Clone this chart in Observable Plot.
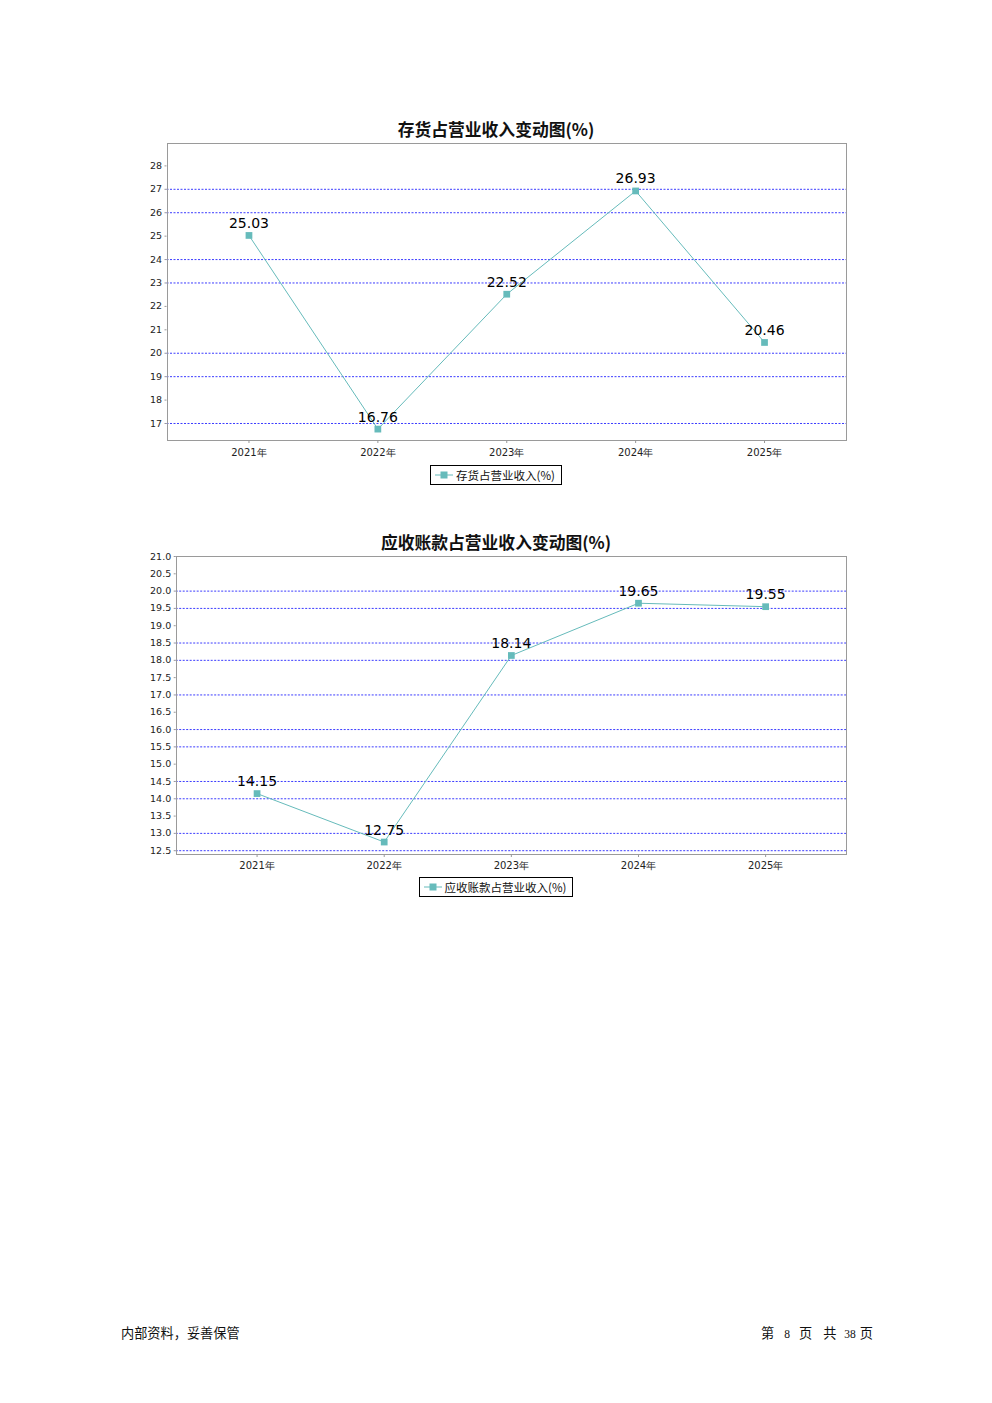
<!DOCTYPE html>
<html><head><meta charset="utf-8">
<script src="https://cdn.jsdelivr.net/npm/d3@7"></script>
<script src="https://cdn.jsdelivr.net/npm/@observablehq/plot@0.6"></script>
<style>
body{margin:0;background:#fff;width:992px;height:1403px;position:relative;font-family:"DejaVu Sans",sans-serif;overflow:hidden}
.abs{position:absolute}
.title{left:0;width:992px;text-align:center;font-family:"Noto Sans CJK SC",sans-serif;font-weight:bold;font-size:16.8px;line-height:20px;color:#111}
.legwrap{left:0;width:992px;display:flex;justify-content:center}
.legend{border:1px solid #000;height:18px;display:flex;align-items:center;padding:0 6px 0 4px;font-family:"Noto Sans CJK SC",sans-serif;font-size:11.5px;color:#111;background:#fff}
.legend svg{margin-right:3px}
.foot{font-family:"Noto Sans CJK SC",sans-serif;font-size:13.2px;color:#111;line-height:16px}
.pg{display:flex;align-items:baseline}
.num{font-family:"Liberation Serif",serif;font-size:11.5px}
</style></head>
<body>
<div class="abs title" style="top:119px">存货占营业收入变动图(%)</div>
<div class="abs" id="c1" style="left:0;top:135px"></div>
<div class="abs legwrap" style="top:465px"><div class="legend" id="l1"></div></div>

<div class="abs title" style="top:532px">应收账款占营业收入变动图(%)</div>
<div class="abs" id="c2" style="left:0;top:548px"></div>
<div class="abs legwrap" style="top:877px"><div class="legend" id="l2"></div></div>

<div class="abs foot" style="left:121px;top:1325px">内部资料，妥善保管</div>
<div class="abs foot pg" style="left:761px;top:1325px"><span>第</span><span class="num" style="margin-left:10px">8</span><span style="margin-left:9px">页</span><span style="margin-left:11px">共</span><span class="num" style="margin-left:8px">38</span><span style="margin-left:4px">页</span></div>

<script>
const years = ["2021年","2022年","2023年","2024年","2025年"];
const inventoryRatio = [25.03,16.76,22.52,26.93,20.46];
const receivableRatio = [14.15,12.75,18.14,19.65,19.55];
const inventoryTicks = [17,18,19,20,21,22,23,24,25,26,27,28];
const inventoryGrid = [17,19,20,23,24,26,27];
const receivableTicks = [12.5,13,13.5,14,14.5,15,15.5,16,16.5,17,17.5,18,18.5,19,19.5,20,20.5,21];
const receivableGrid = [12.5,13,14,14.5,15.5,16,17,18,18.5,19.5,20,21];
const inventoryDomain = [16.274,28.956];
const receivableDomain = [12.39,21.0];
const seriesNames = ["存货占营业收入(%)","应收账款占营业收入(%)"];

const teal = "#66bbbb";

function chart(values, domain, ticks, grid, fmt, ml, mt, plotH, mb, xpad) {
  const data = years.map((y,i)=>({year:y, value:values[i]}));
  return Plot.plot({
    width: 992, height: mt + plotH + mb,
    marginLeft: ml, marginRight: 146, marginTop: mt, marginBottom: mb,
    x: {type:"point", domain: years, padding: 0.636, round: false, label: null},
    y: {domain, label: null},
    style: {background:"transparent", overflow:"visible", color:"#222", fontFamily:"DejaVu Sans, sans-serif"},
    marks: [
      Plot.ruleY(grid, {stroke:"#3c3cff", strokeDasharray:"2,1.5", strokeWidth:1}),
      Plot.frame({stroke:"#9a9a9a", shapeRendering:"crispEdges"}),
      Plot.axisY(ticks, {tickSize:2, tickPadding:3, fontSize:9.5, tickFormat: fmt, stroke:"#999", fill:"#222"}),
      Plot.axisX({tickSize:3, tickPadding:xpad, fontSize:10, stroke:"#999", fill:"#222"}),
      Plot.line(data, {x:"year", y:"value", stroke: teal, strokeWidth:1}),
      Plot.dot(data, {x:"year", y:"value", symbol:"square", r:3.8, fill: teal, stroke:"none"}),
      Plot.text(data, {x:"year", y:"value", text: d=>d.value.toFixed(2), dy:-12, fontSize:14, fill:"#000"})
    ]
  });
}

document.getElementById("c1").append(chart(inventoryRatio, inventoryDomain, inventoryTicks, inventoryGrid, d=>String(d), 166.5, 8, 297, 25, 5));
document.getElementById("c2").append(chart(receivableRatio, receivableDomain, receivableTicks, receivableGrid, d3.format(".1f"), 175.7, 8, 298, 23, 4));

function legendSym() {
  return `<svg width="18" height="10"><line x1="0" y1="5" x2="18" y2="5" stroke="${teal}" stroke-width="1"/><rect x="5.5" y="1.5" width="7" height="7" fill="${teal}"/></svg>`;
}
document.getElementById("l1").innerHTML = legendSym() + `<span>${seriesNames[0]}</span>`;
document.getElementById("l2").innerHTML = legendSym() + `<span>${seriesNames[1]}</span>`;
</script>
</body></html>
